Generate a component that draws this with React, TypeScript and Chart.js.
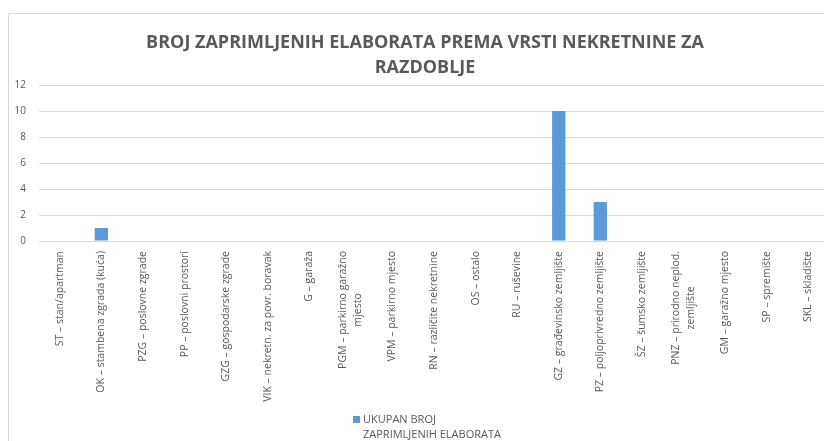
import React, { useEffect, useRef } from "react";
import { Chart, registerables } from "chart.js";

Chart.register(...registerables);

const titleLines = [
  "BROJ ZAPRIMLJENIH ELABORATA PREMA VRSTI NEKRETNINE ZA",
  "RAZDOBLJE",
];

const categories: (string | string[])[] = [
  "ST – stan/apartman",
  "OK – stambena zgrada (kuća)",
  "PZG – poslovne zgrade",
  "PP – poslovni prostori",
  "GZG – gospodarske zgrade",
  "VIK – nekretn. za povr. boravak",
  "G – garaža",
  ["PGM – parkirno garažno", "mjesto"],
  "VPM – parkirno mjesto",
  "RN – različite nekretnine",
  "OS – ostalo",
  "RU – ruševine",
  "GZ – građevinsko zemljište",
  "PZ – poljoprivredno zemljište",
  "ŠZ – šumsko zemljište",
  ["PNZ – prirodno neplod.", "zemljište"],
  "GM – garažno mjesto",
  "SP – spremište",
  "SKL – skladište",
];

const values = [0, 1, 0, 0, 0, 0, 0, 0, 0, 0, 0, 0, 10, 3, 0, 0, 0, 0, 0];

const seriesName = ["UKUPAN BROJ", "ZAPRIMLJENIH ELABORATA"];

const yMin = 0;
const yMax = 12;
const yStep = 2;

const FONT = '"Open Sans", "DejaVu Sans", sans-serif';
const TEXT = "#595959";
const GRID = "#d9d9d9";
const BAR = "#5b9bd5";
const LABEL_SIZE = 10.5;
const LABEL_LINE = 15;

const W = 834;
const H = 433;

const borderPlugin = {
  id: "frameBorder",
  beforeDraw(chart: any) {
    const ctx = chart.ctx;
    ctx.save();
    ctx.strokeStyle = GRID;
    ctx.lineWidth = 1;
    ctx.beginPath();
    ctx.moveTo(0.5, chart.height + 10);
    ctx.lineTo(0.5, 5.5);
    ctx.lineTo(chart.width + 10, 5.5);
    ctx.stroke();
    ctx.restore();
  },
};

const xLabelPlugin = {
  id: "xLabels",
  afterDraw(chart: any) {
    const ctx = chart.ctx;
    const xs = chart.scales.x;
    const top = chart.chartArea.bottom + 10;
    ctx.save();
    ctx.font = `${LABEL_SIZE}px ${FONT}`;
    ctx.fillStyle = TEXT;
    ctx.textBaseline = "middle";
    ctx.textAlign = "right";
    categories.forEach((lab, i) => {
      const lines = Array.isArray(lab) ? lab : [lab];
      const widths = lines.map((l) => ctx.measureText(l).width);
      const maxW = Math.max(...widths);
      const x = xs.getPixelForTick(i);
      ctx.save();
      ctx.translate(x, top);
      ctx.rotate(-Math.PI / 2);
      lines.forEach((l, j) => {
        const d = (maxW - widths[j]) / 2;
        ctx.fillText(l, -d, (j - (lines.length - 1) / 2) * LABEL_LINE);
      });
      ctx.restore();
    });
    ctx.restore();
  },
};

const legendPlugin = {
  id: "customLegend",
  afterDraw(chart: any) {
    const ctx = chart.ctx;
    const ca = chart.chartArea;
    const sx = ca.left + 314;
    const sy = ca.bottom + 175;
    ctx.save();
    ctx.fillStyle = BAR;
    ctx.fillRect(sx, sy, 7, 7);
    ctx.font = `11px ${FONT}`;
    ctx.fillStyle = TEXT;
    ctx.textAlign = "left";
    ctx.textBaseline = "middle";
    seriesName.forEach((l, j) => {
      ctx.fillText(l, sx + 10, sy + 4 + j * 15);
    });
    ctx.restore();
  },
};

export default function App() {
  const ref = useRef<HTMLCanvasElement | null>(null);

  useEffect(() => {
    if (!ref.current) return;
    const chart = new Chart(ref.current, {
      type: "bar",
      data: {
        labels: categories,
        datasets: [
          {
            label: seriesName.join(" "),
            data: values,
            backgroundColor: BAR,
            borderWidth: 0,
            categoryPercentage: 1,
            barPercentage: 0.32,
          },
        ],
      },
      options: {
        responsive: false,
        animation: false,
        layout: { padding: { top: 5, left: 0, right: 0, bottom: 0 } },
        plugins: {
          legend: { display: false },
          tooltip: { enabled: false },
          title: {
            display: true,
            text: titleLines,
            color: TEXT,
            font: { family: FONT, size: 18, weight: "bold", lineHeight: "25px" },
            padding: { top: 17, bottom: 5 },
          },
        },
        scales: {
          x: {
            grid: { display: false },
            border: { display: false },
            ticks: { display: false },
            afterFit: (s: any) => {
              s.height = 200;
            },
          },
          y: {
            min: yMin,
            max: yMax,
            grid: { color: GRID, drawTicks: false, lineWidth: 1 },
            border: { display: false },
            ticks: {
              stepSize: yStep,
              padding: 13,
              color: TEXT,
              font: { family: FONT, size: 10 },
            },
            afterFit: (s: any) => {
              s.width = 31;
            },
          },
          yRight: {
            position: "right",
            display: true,
            grid: { display: false },
            border: { display: false },
            ticks: { display: false },
            afterFit: (s: any) => {
              s.width = 13;
            },
          },
        },
      },
      plugins: [borderPlugin, xLabelPlugin, legendPlugin],
    });
    return () => chart.destroy();
  }, []);

  return (
    <div
      style={{
        position: "fixed",
        left: 8,
        top: 8,
        width: 816,
        height: H,
        overflow: "hidden",
      }}
    >
      <canvas ref={ref} width={W} height={H} style={{ width: W, height: H, display: "block" }} />
    </div>
  );
}
